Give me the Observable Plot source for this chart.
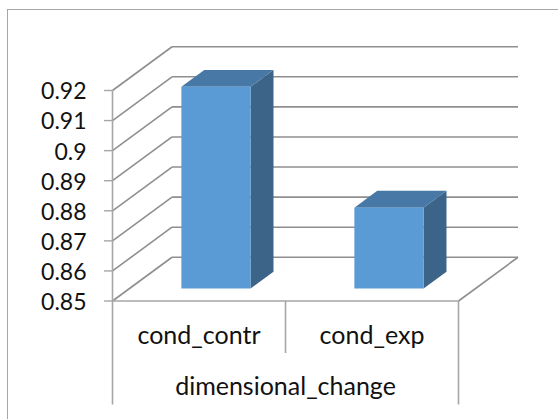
<!DOCTYPE html>
<html>
<head>
<meta charset="utf-8">
<script src="https://cdn.jsdelivr.net/npm/d3@7"></script>
<script src="https://cdn.jsdelivr.net/npm/@observablehq/plot@0.6"></script>
<style>
  html, body { margin: 0; padding: 0; background: #fff; width: 558px; height: 419px; overflow: hidden; }
  #frame { position: absolute; left: 7px; top: 9px; width: 620px; height: 480px; border: 1.5px solid #a6a6a6; box-sizing: border-box; }
  #chart { position: absolute; left: 0; top: 0; }
  #chart svg { background: transparent; display: block; }
</style>
</head>
<body>
<div id="frame"></div>
<div id="chart"></div>
<script>
// Data
const categories = ["cond_contr", "cond_exp"];
const values = [0.9171, 0.8769];
const groupLabel = "dimensional_change";
const yTicks = [0.85, 0.86, 0.87, 0.88, 0.89, 0.9, 0.91, 0.92];

// Oblique 3D projection, in data units
const wallDepthX = 0.344;      // category units for full depth
const wallDepthY = 0.01455;    // value units for full depth
const barFrontZ = 0.285;
const barBackZ = 0.67;
const barHalf = 0.2;
const base = 0.85;
const axisBottom = 0.8156;
const separatorBottom = 0.8327;
const categoryLabelY = 0.8384;
const groupLabelY = 0.8213;

const px = (c, v, z) => ({x: c + z * wallDepthX, y: v + z * wallDepthY});

// Faces of each bar
const faces = [];
categories.forEach((name, i) => {
  const l = i + 0.5 - barHalf, r = i + 0.5 + barHalf, v = values[i];
  const f = barFrontZ, b = barBackZ;
  const add = (face, pts) => pts.forEach(p => faces.push({id: name + face, face, ...px(...p)}));
  add("side", [[r, base, f], [r, base, b], [r, v, b], [r, v, f]]);
  add("top", [[l, v, f], [r, v, f], [r, v, b], [l, v, b]]);
  add("front", [[l, base, f], [r, base, f], [r, v, f], [l, v, f]]);
});

const grey = "#8f8f8f";
const wallSegs = [];
yTicks.forEach(v => {
  wallSegs.push({x1: 0, y1: v, x2: wallDepthX, y2: v + wallDepthY});
  wallSegs.push({x1: wallDepthX, y1: v + wallDepthY, x2: 2 + wallDepthX, y2: v + wallDepthY});
});
wallSegs.push({x1: 2, y1: base, x2: 2 + wallDepthX, y2: base + wallDepthY});

const axisSegs = [
  {x1: 0, y1: yTicks[yTicks.length - 1], x2: 0, y2: axisBottom},
  {x1: 0, y1: base, x2: 2, y2: base},
  {x1: 1, y1: base, x2: 1, y2: separatorBottom},
  {x1: 2, y1: base, x2: 2, y2: axisBottom}
];

const font = "Lato, 'Open Sans', sans-serif";

const chart = Plot.plot({
  width: 558,
  height: 419,
  marginLeft: 112,
  marginRight: 100,
  marginTop: 90,
  marginBottom: 118.5,
  style: {background: "transparent", fontFamily: font, overflow: "visible"},
  x: {domain: [0, 2], range: [112, 458], axis: null},
  y: {domain: [0.85, 0.92], range: [300.5, 90], axis: null},
  marks: [
    Plot.link(wallSegs, {x1: "x1", y1: "y1", x2: "x2", y2: "y2", stroke: grey, strokeWidth: 1.6}),
    Plot.link(axisSegs, {x1: "x1", y1: "y1", x2: "x2", y2: "y2", stroke: "#a6a6a6", strokeWidth: 1.6}),
    Plot.axisY({
      ticks: yTicks, tickFormat: () => "", anchor: "left", tickSize: 8,
      stroke: "#a6a6a6", label: null, strokeWidth: 1.4
    }),
    Plot.axisY({
      ticks: yTicks, tickFormat: d => String(d), anchor: "left", tickSize: 0, tickPadding: 26,
      fill: "#111", label: null, fontSize: 23, dy: 1.5
    }),
    Plot.line(faces.filter(d => d.face === "side"), {x: "x", y: "y", z: "id", fill: "#3b6488", stroke: "none"}),
    Plot.line(faces.filter(d => d.face === "top"), {x: "x", y: "y", z: "id", fill: "#4878a6", stroke: "none"}),
    Plot.line(faces.filter(d => d.face === "front"), {x: "x", y: "y", z: "id", fill: "#5b9bd5", stroke: "none"}),
    Plot.text(categories, {
      x: (d, i) => i + 0.5, y: () => categoryLabelY, text: d => d,
      fontSize: 25, fill: "#111", lineAnchor: "middle"
    }),
    Plot.text([groupLabel], {
      x: () => 1, y: () => groupLabelY, text: d => d,
      fontSize: 25, fill: "#111", lineAnchor: "middle"
    })
  ]
});
document.getElementById("chart").appendChild(chart);
</script>
</body>
</html>
